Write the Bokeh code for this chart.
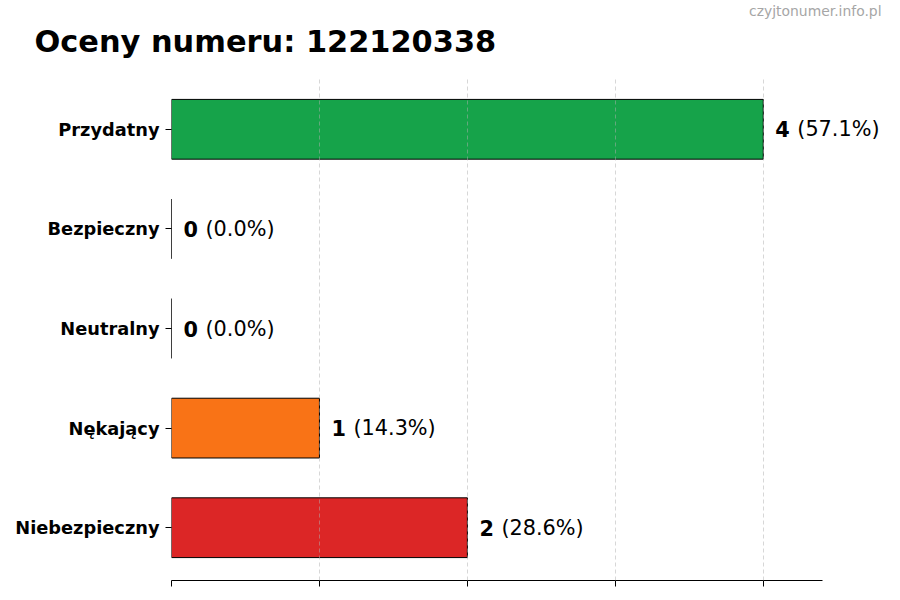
from bokeh.plotting import figure
from bokeh.models import Range1d, FixedTicker, Title, LabelSet, ColumnDataSource
from bokeh.core.properties import value
from bokeh.embed import file_html
from bokeh.resources import INLINE

title_text = "Oceny numeru: 122120338"
watermark = "czyjtonumer.info.pl"
categories = ["Przydatny", "Bezpieczny", "Neutralny", "Nękający", "Niebezpieczny"]
counts = [4, 0, 0, 1, 2]
colors = ["#16a34a", "#16a34a", "#9ca3af", "#f97316", "#dc2626"]
x_ticks = [0, 1, 2, 3, 4]

total = sum(counts)
n = len(categories)
ypos = [n - 1 - i for i in range(n)]
pct = ["(%.1f%%)" % (100.0 * c / total) for c in counts]
num = [str(c) for c in counts]

src = ColumnDataSource(dict(y=ypos, right=counts, color=colors, num=num, pct=pct, cat=categories))

FONT = "DejaVu Sans"
x_axis_end = max(counts) * 1.1

p = figure(width=900, height=600, output_backend="svg", toolbar_location=None,
           x_range=Range1d(0, 4.86), y_range=Range1d(-0.53, n - 1 + 0.53),
           min_border_left=171, min_border_right=10, min_border_top=76, min_border_bottom=20)
p.outline_line_color = None
p.background_fill_color = "white"

p.hbar(y="y", left=0, right="right", height=0.6, fill_color="color", line_color="black",
       line_width=1, source=src)

p.add_layout(LabelSet(x="right", y="y", text="num", x_offset=12, text_baseline="middle", text_align="left",
                      text_font=value(FONT), text_font_style="bold", text_font_size="20.8px",
                      text_color="black", source=src))
p.add_layout(LabelSet(x="right", y="y", text="pct", x_offset=34, text_baseline="middle", text_align="left",
                      text_font=value(FONT), text_font_size="20.8px", text_color="black", source=src))

# axes
p.yaxis.ticker = FixedTicker(ticks=ypos)
p.yaxis.major_label_overrides = {y: c for y, c in zip(ypos, categories)}
p.yaxis.axis_line_color = None
p.yaxis.minor_tick_line_color = None
p.yaxis.major_tick_in = 0
p.yaxis.major_tick_out = 6
p.yaxis.major_label_standoff = 6
p.yaxis.major_label_text_font = FONT
p.yaxis.major_label_text_font_style = "bold"
p.yaxis.major_label_text_font_size = "17.8px"
p.yaxis.major_label_text_color = "black"

p.xaxis.ticker = FixedTicker(ticks=x_ticks)
p.xaxis.bounds = (0, x_axis_end)
p.xaxis.major_label_text_font_size = "0px"
p.xaxis.major_label_text_alpha = 0
p.xaxis.minor_tick_line_color = None
p.xaxis.major_tick_in = 0
p.xaxis.major_tick_out = 6
p.xaxis.axis_line_color = "black"
p.xaxis.major_tick_line_color = "black"

p.ygrid.grid_line_color = None
p.xgrid.ticker = FixedTicker(ticks=x_ticks)
p.xgrid.grid_line_color = "#b0b0b0"
p.xgrid.grid_line_alpha = 0.5
p.xgrid.grid_line_dash = "4 3"
p.xgrid.level = "overlay"

# outer element: watermark; inner element: chart title
p.title = Title(text=watermark, align="right", offset=9, standoff=-30,
                text_font=FONT, text_font_style="normal", text_font_size="13.9px",
                text_color="#a6a6a6")
p.add_layout(Title(text=title_text, align="left", offset=-137, standoff=36,
                   text_font=FONT, text_font_style="bold", text_font_size="30.4px",
                   text_color="black"), "above")

open("out.html", "w").write(file_html(p, INLINE))
